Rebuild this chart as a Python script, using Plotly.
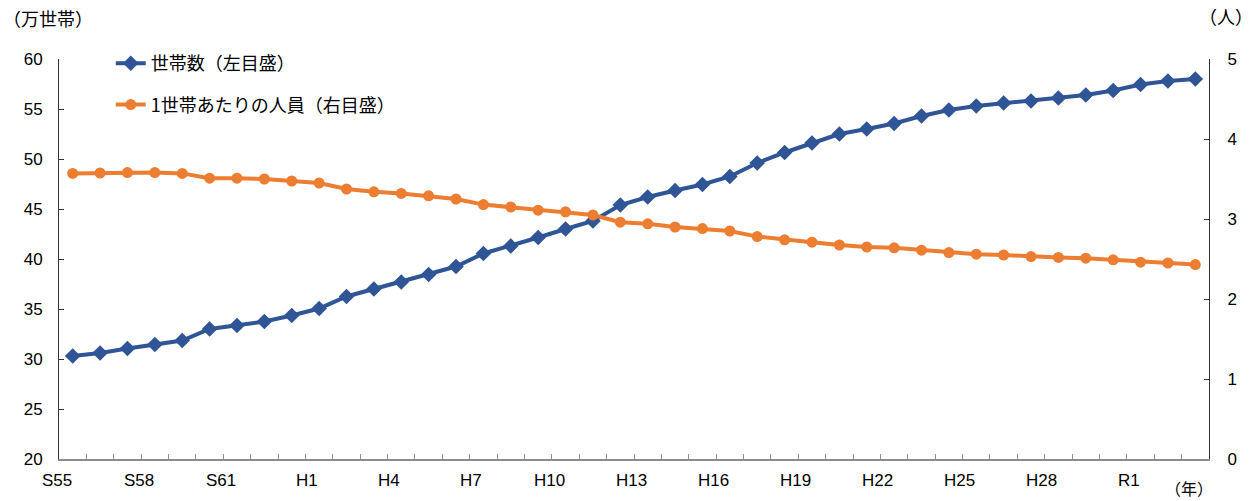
import plotly.graph_objects as go

years = (["S55", "S56", "S57", "S58", "S59", "S60", "S61", "S62", "S63"]
         + ["H%d" % i for i in range(1, 31)]
         + ["R1", "R2", "R3"])

households = [30.3, 30.6, 31.05, 31.45, 31.85, 33.0, 33.35, 33.75, 34.35,
              35.05, 36.25, 37.0, 37.7, 38.45, 39.25, 40.55, 41.3, 42.15, 43.0,
              43.8, 45.4, 46.2, 46.85, 47.45, 48.25, 49.6, 50.65, 51.6, 52.5,
              53.0, 53.55, 54.3, 54.9, 55.3, 55.6, 55.8, 56.1, 56.4, 56.85,
              57.45, 57.8, 58.0]

persons = [3.57, 3.575, 3.58, 3.58, 3.57, 3.51, 3.51, 3.50, 3.475, 3.45,
           3.375, 3.34, 3.32, 3.29, 3.25, 3.18, 3.15, 3.11, 3.09, 3.05,
           2.96, 2.94, 2.90, 2.88, 2.85, 2.78, 2.74, 2.71, 2.675, 2.65,
           2.64, 2.61, 2.58, 2.56, 2.55, 2.53, 2.52, 2.51, 2.49, 2.46,
           2.45, 2.43]

label_every = 3
idx = list(range(len(years)))

BLUE = "#2F5597"
ORANGE = "#ED7D31"
FONT = "Liberation Sans, Arial, Noto Sans CJK JP"
JFONT = "Noto Sans CJK JP, Liberation Sans"

fig = go.Figure()
fig.add_trace(go.Scatter(
    x=idx, y=households, name="世帯数（左目盛）", mode="lines+markers",
    line=dict(color=BLUE, width=4), marker=dict(symbol="diamond", size=12, color=BLUE),
    legendgroup="a", yaxis="y"))
fig.add_trace(go.Scatter(
    x=idx, y=persons, name="1世帯あたりの人員（右目盛）", mode="lines+markers",
    line=dict(color=ORANGE, width=4), marker=dict(symbol="circle", size=11, color=ORANGE),
    legendgroup="b", yaxis="y2"))

fig.update_layout(
    width=1256, height=501,
    margin=dict(l=59, r=47, t=59, b=42),
    paper_bgcolor="white", plot_bgcolor="white",
    showlegend=True,
    legend=dict(x=0.045, y=0.9375, xanchor="left", yanchor="middle",
                bgcolor="rgba(0,0,0,0)", tracegroupgap=15,
                font=dict(family=JFONT, size=18, color="#000")),
    xaxis=dict(range=[-0.5, len(years) - 0.5], showgrid=False, zeroline=False,
               showline=True, linecolor="#8c8c8c", linewidth=1.5,
               tickmode="linear", tick0=-0.5, dtick=1, ticks="inside", ticklen=5,
               tickcolor="#8c8c8c", showticklabels=False),
    yaxis=dict(range=[20, 60], dtick=5, showgrid=False, zeroline=False,
               showline=True, linecolor="#333", linewidth=1,
               ticks="inside", ticklen=5, tickcolor="#333",
               ticklabelstandoff=12,
               tickfont=dict(family=FONT, size=17, color="#000")),
    yaxis2=dict(range=[0, 5], dtick=1, overlaying="y", side="right", showgrid=False,
                zeroline=False, showline=True, linecolor="#333", linewidth=1,
                ticks="inside", ticklen=5, tickcolor="#333",
                ticklabelstandoff=14,
                tickfont=dict(family=FONT, size=17, color="#000")),
)

# category labels, right-aligned at the category centre
for i in range(0, len(years), label_every):
    fig.add_annotation(x=i, y=0, xref="x", yref="paper", text=years[i],
                       showarrow=False, xanchor="right", yanchor="top",
                       xshift=1, yshift=-10,
                       font=dict(family=FONT, size=17, color="#000"))

# axis unit captions
fig.add_annotation(x=0, y=1, xref="paper", yref="paper", xanchor="right", yanchor="bottom",
                   xshift=36, yshift=26, text="（万世帯）", showarrow=False,
                   font=dict(family=JFONT, size=18, color="#000"))
fig.add_annotation(x=1, y=1, xref="paper", yref="paper", xanchor="left", yanchor="bottom",
                   xshift=-12, yshift=28, text="（人）", showarrow=False,
                   font=dict(family=JFONT, size=18, color="#000"))
fig.add_annotation(x=1, y=0, xref="paper", yref="paper", xanchor="right", yanchor="top",
                   xshift=6, yshift=-15, text="（年）", showarrow=False,
                   font=dict(family=JFONT, size=16, color="#000"))

fig.write_html("out.html")
